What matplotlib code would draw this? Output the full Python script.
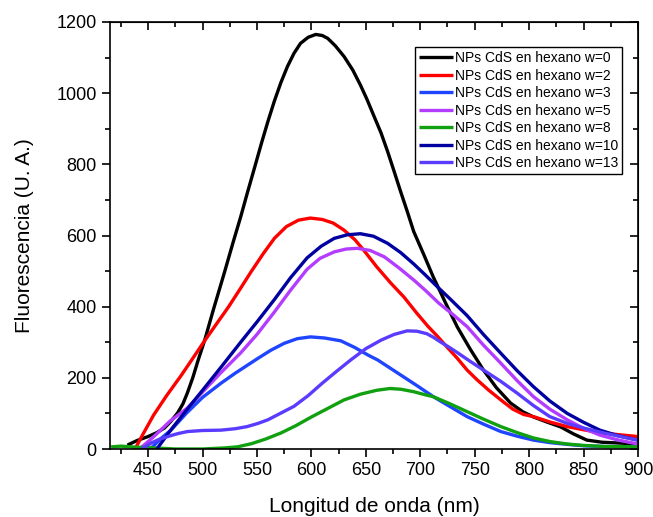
import matplotlib
matplotlib.use("Agg")
import matplotlib.pyplot as plt
from matplotlib.ticker import MultipleLocator

plt.rcParams['font.family'] = ['Liberation Sans', 'DejaVu Sans']

labels = ["NPs CdS en hexano w=0", "NPs CdS en hexano w=2", "NPs CdS en hexano w=3",
          "NPs CdS en hexano w=5", "NPs CdS en hexano w=8", "NPs CdS en hexano w=10",
          "NPs CdS en hexano w=13"]
colors = ["#000000", "#ff0000", "#1f45ff", "#b43cff", "#10a010", "#0000a0", "#5a3cff"]

x_w0 = [431, 440, 450, 458, 465, 471, 477, 482, 486, 491, 496, 502, 510, 520, 528, 535, 541, 548, 554, 560, 566, 572, 578, 584, 590, 597, 604, 610, 615, 622, 630, 638, 645, 651, 657, 664, 670, 676, 682, 688, 694, 703, 712, 723, 734, 746, 758, 770, 783, 794, 804, 817, 829, 841, 853, 867, 881, 900]
y_w0 = [11, 24, 35, 46, 59, 78, 101, 127, 157, 200, 250, 306, 392, 495, 580, 652, 718, 793, 858, 920, 978, 1030, 1075, 1112, 1140, 1157, 1165, 1162, 1154, 1133, 1103, 1065, 1023, 983, 939, 888, 836, 780, 723, 668, 611, 548, 483, 412, 343, 280, 222, 172, 129, 105, 90, 75, 62, 42, 25, 19, 17, 14]

x_w2 = [438, 445, 455, 467, 480, 490, 501, 512, 524, 535, 545, 556, 566, 577, 588, 599, 610, 620, 630, 640, 648, 660, 673, 685, 697, 707, 716, 725, 734, 743, 752, 763, 774, 785, 795, 804, 819, 835, 850, 865, 883, 900]
y_w2 = [0, 40, 95, 150, 205, 250, 300, 348, 400, 452, 500, 550, 592, 625, 643, 649, 645, 635, 615, 588, 559, 512, 466, 427, 381, 345, 316, 285, 255, 222, 195, 165, 138, 112, 97, 91, 76, 63, 54, 46, 40, 35]

x_w3 = [452, 462, 471, 485, 500, 517, 530, 540, 551, 563, 575, 587, 599, 612, 627, 640, 652, 661, 672, 682, 697, 712, 728, 743, 758, 774, 789, 804, 819, 835, 850, 870, 900]
y_w3 = [0, 30, 53, 100, 145, 185, 213, 233, 255, 278, 297, 310, 315, 312, 304, 285, 264, 250, 228, 208, 178, 147, 118, 91, 70, 49, 36, 25, 18, 13, 9, 7, 6]

x_w5 = [442, 449, 456, 470, 486, 500, 517, 535, 550, 566, 581, 596, 608, 621, 632, 642, 654, 667, 680, 694, 705, 717, 730, 743, 758, 774, 789, 804, 819, 835, 850, 865, 882, 900]
y_w5 = [0, 18, 37, 78, 115, 160, 215, 270, 322, 385, 447, 505, 536, 554, 562, 564, 558, 540, 510, 475, 445, 410, 378, 344, 292, 241, 192, 147, 112, 82, 58, 39, 25, 14]

x_w8 = [416, 425, 440, 456, 475, 500, 520, 532, 545, 558, 572, 586, 600, 615, 630, 645, 660, 672, 682, 694, 705, 712, 728, 743, 758, 774, 789, 804, 819, 835, 850, 870, 900]
y_w8 = [6, 8, 5, 3, 0, 0, 3, 6, 15, 28, 45, 66, 90, 114, 138, 154, 165, 170, 168, 161, 152, 147, 126, 105, 84, 63, 46, 31, 21, 14, 10, 7, 6]

x_w10 = [458, 464, 472, 486, 500, 517, 535, 550, 566, 581, 596, 609, 621, 633, 645, 657, 670, 682, 694, 705, 716, 728, 743, 758, 774, 789, 804, 819, 835, 850, 865, 882, 900]
y_w10 = [0, 25, 58, 112, 165, 230, 300, 357, 420, 482, 537, 570, 592, 602, 605, 598, 578, 552, 520, 488, 455, 420, 375, 322, 269, 220, 175, 135, 100, 75, 53, 37, 25]

x_w13 = [444, 453, 460, 468, 477, 486, 500, 517, 530, 541, 551, 560, 572, 584, 597, 610, 623, 636, 650, 664, 676, 688, 697, 706, 712, 719, 726, 734, 746, 758, 774, 789, 804, 819, 835, 850, 870, 900]
y_w13 = [0, 17, 27, 35, 43, 49, 52, 53, 57, 63, 72, 82, 101, 120, 150, 185, 218, 250, 282, 306, 322, 332, 331, 324, 314, 300, 287, 271, 246, 222, 190, 157, 122, 91, 72, 59, 44, 25]

xs = [x_w0, x_w2, x_w3, x_w5, x_w8, x_w10, x_w13]
ys = [y_w0, y_w2, y_w3, y_w5, y_w8, y_w10, y_w13]

fig = plt.figure(figsize=(6.53, 5.17), dpi=100)
ax = fig.add_axes([110/653, 1-449/517, 528/653, 427/517])

for x, y, c, l in zip(xs, ys, colors, labels):
    ax.plot(x, y, color=c, lw=2.4, label=l, solid_joinstyle='round', solid_capstyle='butt')

ax.set_xlim(415, 900)
ax.set_ylim(0, 1200)
ax.xaxis.set_major_locator(MultipleLocator(50))
ax.xaxis.set_minor_locator(MultipleLocator(25))
ax.yaxis.set_major_locator(MultipleLocator(200))
ax.yaxis.set_minor_locator(MultipleLocator(100))

ax.tick_params(which='both', bottom=True, left=True, direction='out', labelsize=13, width=1.2)
ax.tick_params(which='major', length=6)
ax.tick_params(which='minor', length=3.5)
ax.tick_params(axis='both', which='both', top=False, right=False)
for sp in ax.spines.values():
    sp.set_linewidth(1.2)

# inward ticks on top and right
axt = ax.secondary_xaxis('top')
axt.xaxis.set_major_locator(MultipleLocator(50))
axt.xaxis.set_minor_locator(MultipleLocator(25))
axt.tick_params(which='both', direction='in', labeltop=False, width=1.2)
axt.tick_params(which='major', length=6)
axt.tick_params(which='minor', length=3.5)
axr = ax.secondary_yaxis('right')
axr.yaxis.set_major_locator(MultipleLocator(200))
axr.yaxis.set_minor_locator(MultipleLocator(100))
axr.tick_params(which='both', direction='in', labelright=False, width=1.2)
axr.tick_params(which='major', length=6)
axr.tick_params(which='minor', length=3.5)

ax.set_xlabel("Longitud de onda (nm)", fontsize=15, labelpad=13)
ax.set_ylabel("Fluorescencia (U. A.)", fontsize=15, labelpad=16)

leg = ax.legend(loc='upper right', fontsize=10, frameon=True, fancybox=False,
                edgecolor='black', framealpha=1, handlelength=2.4, handletextpad=0.15,
                labelspacing=0.25, borderpad=0.3, borderaxespad=0)
leg.get_frame().set_linewidth(1.0)
leg.set_bbox_to_anchor(((622-110)/528, 1 - (47-22)/427), transform=ax.transAxes)

fig.savefig("out.png", dpi=100)
